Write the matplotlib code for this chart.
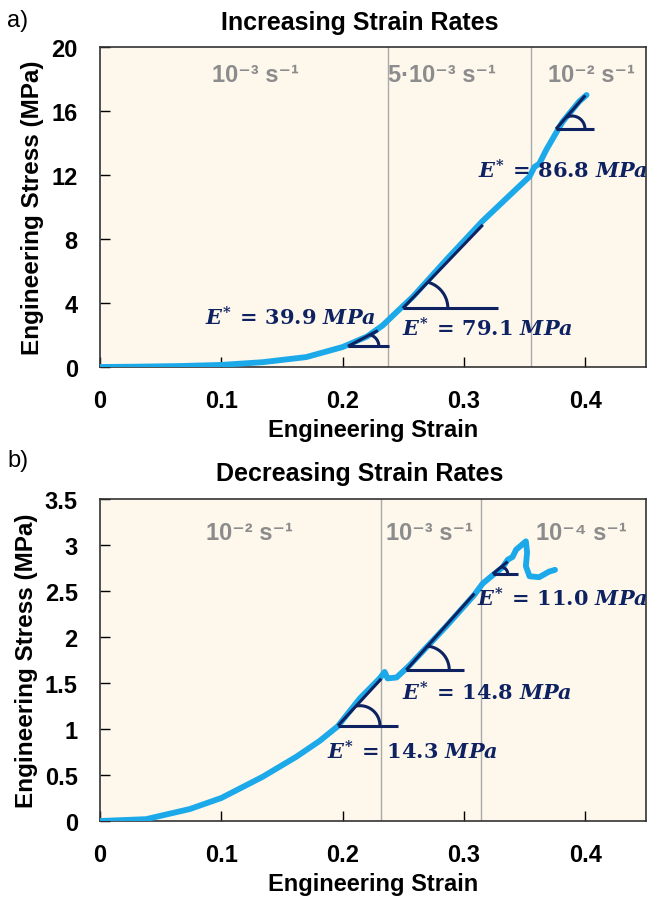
import numpy as np
import matplotlib
matplotlib.use('Agg')
import matplotlib.pyplot as plt
from matplotlib.ticker import FuncFormatter

# fonts: bold sans for axes, bold serif for the modulus labels
plt.rcParams['font.family'] = ['Liberation Sans', 'DejaVu Sans']
plt.rcParams['mathtext.fontset'] = 'custom'
plt.rcParams['mathtext.rm'] = 'DejaVu Serif:bold'
plt.rcParams['mathtext.it'] = 'DejaVu Serif:italic:bold'

# ---- data: a) increasing strain rates
strain_a = [0, 0.03, 0.066, 0.10, 0.134, 0.17, 0.20, 0.22, 0.233, 0.244, 0.258,
            0.286, 0.315, 0.340, 0.354, 0.358, 0.362, 0.368, 0.381, 0.395, 0.401]
stress_a = [0, 0.02, 0.06, 0.13, 0.3, 0.62, 1.25, 1.9, 2.6, 3.4, 4.4,
            6.75, 9.1, 10.9, 11.9, 12.5, 12.7, 13.6, 15.3, 16.6, 17.0]
rate_lines_a = [0.237, 0.3556]
rate_labels_a = ['10⁻³ s⁻¹', '5·10⁻³ s⁻¹', '10⁻² s⁻¹']
rate_x_a = [0.128, 0.2815, 0.405]

# tangent fits: modulus, start point, end of slope line, end of base line
E_a = [39.9, 79.1, 86.8]
t_x0_a = [0.2043, 0.2496, 0.3758]
t_y0_a = [1.29, 3.67, 14.875]
t_x1_a = [0.229, 0.3155, 0.400]
t_xh_a = [0.2381, 0.3278, 0.4068]
lab_x_a = [0.0864, 0.2486, 0.3115]
lab_y_a = [3.1, 2.44, 12.3]

# ---- data: b) decreasing strain rates
strain_b = [0, 0.038, 0.074, 0.1, 0.134, 0.162, 0.181, 0.196, 0.214, 0.2305, 0.2346,
            0.237, 0.2444, 0.255, 0.2856, 0.3086, 0.3153, 0.3235, 0.332, 0.336, 0.340,
            0.343, 0.3457, 0.351, 0.352, 0.351, 0.354, 0.362, 0.370, 0.375]
stress_b = [0, 0.02, 0.13, 0.25, 0.48, 0.70, 0.87, 1.03, 1.33, 1.55, 1.62,
            1.55, 1.56, 1.69, 2.12, 2.46, 2.58, 2.67, 2.76, 2.84, 2.87,
            2.95, 2.98, 3.04, 2.92, 2.77, 2.66, 2.65, 2.71, 2.73]
rate_lines_b = [0.232, 0.3136]
rate_labels_b = ['10⁻² s⁻¹', '10⁻³ s⁻¹', '10⁻⁴ s⁻¹']
rate_x_b = [0.1235, 0.2716, 0.397]

E_b = [14.3, 14.8, 11.0]
t_x0_b = [0.1961, 0.2524, 0.3237]
t_y0_b = [1.036, 1.641, 2.685]
t_x1_b = [0.2318, 0.3086, 0.336]
t_xh_b = [0.2455, 0.3004, 0.3443]
lab_x_b = [0.187, 0.2486, 0.3105]
lab_y_b = [0.76, 1.40, 2.43]

# arc offsets / radii in pixels
arc_d_a, arc_r_a = [19, 18, 16], [12, 27, 13]
arc_d_b, arc_r_b = [22, 19, 8], [20, 24, 7]

BG = '#FDF7EC'
BLUE = '#1BA9EA'
NAVY = '#0E2262'
GREY = '#8C8C8C'

W, H = 651, 903
fig = plt.figure(figsize=(W / 100, H / 100), dpi=100)


def make_axes(left, top, right, bottom):
    return fig.add_axes([left / W, 1 - bottom / H, (right - left) / W, (bottom - top) / H])


def draw_arc(ax, x0, y0, ang_deg, d, r):
    # angle mark: arc sitting on the base line, closed by the slope line
    vx, vy = ax.transData.transform((x0, y0))
    a = np.radians(ang_deg)
    t = d * np.cos(a) + np.sqrt(d**2 * np.cos(a)**2 - d**2 + r**2)
    px, py = vx + t * np.cos(a), vy + t * np.sin(a)
    cx, cy = vx + d, vy
    phi = np.arctan2(py - cy, px - cx)
    th = np.linspace(0, phi, 40)
    pts = np.column_stack([cx + r * np.cos(th), cy + r * np.sin(th)])
    data = ax.transData.inverted().transform(pts)
    ax.plot(data[:, 0], data[:, 1], color=NAVY, lw=2.2, solid_capstyle='butt', zorder=5)


def panel(ax, strain, stress, ymax, ystep, rate_lines, rate_x, rate_y, rate_labels,
          E, x0, y0, x1, xh, lab_x, lab_y, arc_d, arc_r):
    ax.set_facecolor(BG)
    ax.set_xlim(0, 0.45)
    ax.set_ylim(0, ymax)
    ax.set_xticks([0, 0.1, 0.2, 0.3, 0.4])
    ax.set_yticks(np.arange(0, ymax + ystep / 2, ystep))
    fmt = FuncFormatter(lambda v, p: '%g' % v)
    ax.xaxis.set_major_formatter(fmt)
    ax.yaxis.set_major_formatter(fmt)
    ax.tick_params(direction='in', length=7, width=1, top=False, right=False, pad=16, labelsize=17)
    for lab in ax.get_xticklabels() + ax.get_yticklabels():
        lab.set_fontweight('bold')
    for s in ax.spines.values():
        s.set_linewidth(1.2)
        s.set_color('#333333')
    ax.set_xlabel('Engineering Strain', fontsize=17, fontweight='bold', labelpad=4)
    ax.set_ylabel('Engineering Stress (MPa)', fontsize=17.5, fontweight='bold', labelpad=5)

    for xv in rate_lines:
        ax.axvline(xv, color='#AAAAAA', lw=1, zorder=1)
    for xt, lab in zip(rate_x, rate_labels):
        ax.text(xt, rate_y, lab, color=GREY, fontsize=17, fontweight='bold',
                ha='center', va='baseline')

    ax.plot(strain, stress, color=BLUE, lw=4.2, solid_capstyle='round', zorder=3)

    # px per data unit for the slope angle on screen
    sx = ax.transData.transform((1, 0))[0] - ax.transData.transform((0, 0))[0]
    sy = ax.transData.transform((0, 1))[1] - ax.transData.transform((0, 0))[1]
    for i in range(len(E)):
        y1 = y0[i] + E[i] * (x1[i] - x0[i])
        ax.plot([x0[i], x1[i]], [y0[i], y1], color=NAVY, lw=2.2, solid_capstyle='butt', zorder=5)
        ax.plot([x0[i], xh[i]], [y0[i], y0[i]], color=NAVY, lw=2.2, solid_capstyle='butt', zorder=5)
        ang = np.degrees(np.arctan2(E[i] * sy, sx))
        draw_arc(ax, x0[i], y0[i], ang, arc_d[i], arc_r[i])
        ax.text(lab_x[i], lab_y[i], r'$E^{*}\,=\,%.1f\ MPa$' % E[i], color=NAVY,
                fontsize=15, ha='left', va='center', zorder=6)


ax_a = make_axes(100, 48, 646, 368)
ax_b = make_axes(100, 500, 646, 822)

panel(ax_a, strain_a, stress_a, 20, 4, rate_lines_a, rate_x_a, 17.9, rate_labels_a,
      E_a, t_x0_a, t_y0_a, t_x1_a, t_xh_a, lab_x_a, lab_y_a, arc_d_a, arc_r_a)
panel(ax_b, strain_b, stress_b, 3.5, 0.5, rate_lines_b, rate_x_b, 3.07, rate_labels_b,
      E_b, t_x0_b, t_y0_b, t_x1_b, t_xh_b, lab_x_b, lab_y_b, arc_d_b, arc_r_b)

fig.text(360 / W, 1 - 23 / H, 'Increasing Strain Rates', fontsize=18, fontweight='bold',
         ha='center', va='center')
fig.text(360 / W, 1 - 474 / H, 'Decreasing Strain Rates', fontsize=18, fontweight='bold',
         ha='center', va='center')
fig.text(7 / W, 1 - 21 / H, 'a)', fontsize=17, ha='left', va='center')
fig.text(7 / W, 1 - 461 / H, 'b)', fontsize=17, ha='left', va='center')

fig.savefig('out.png', dpi=100, facecolor='white')
